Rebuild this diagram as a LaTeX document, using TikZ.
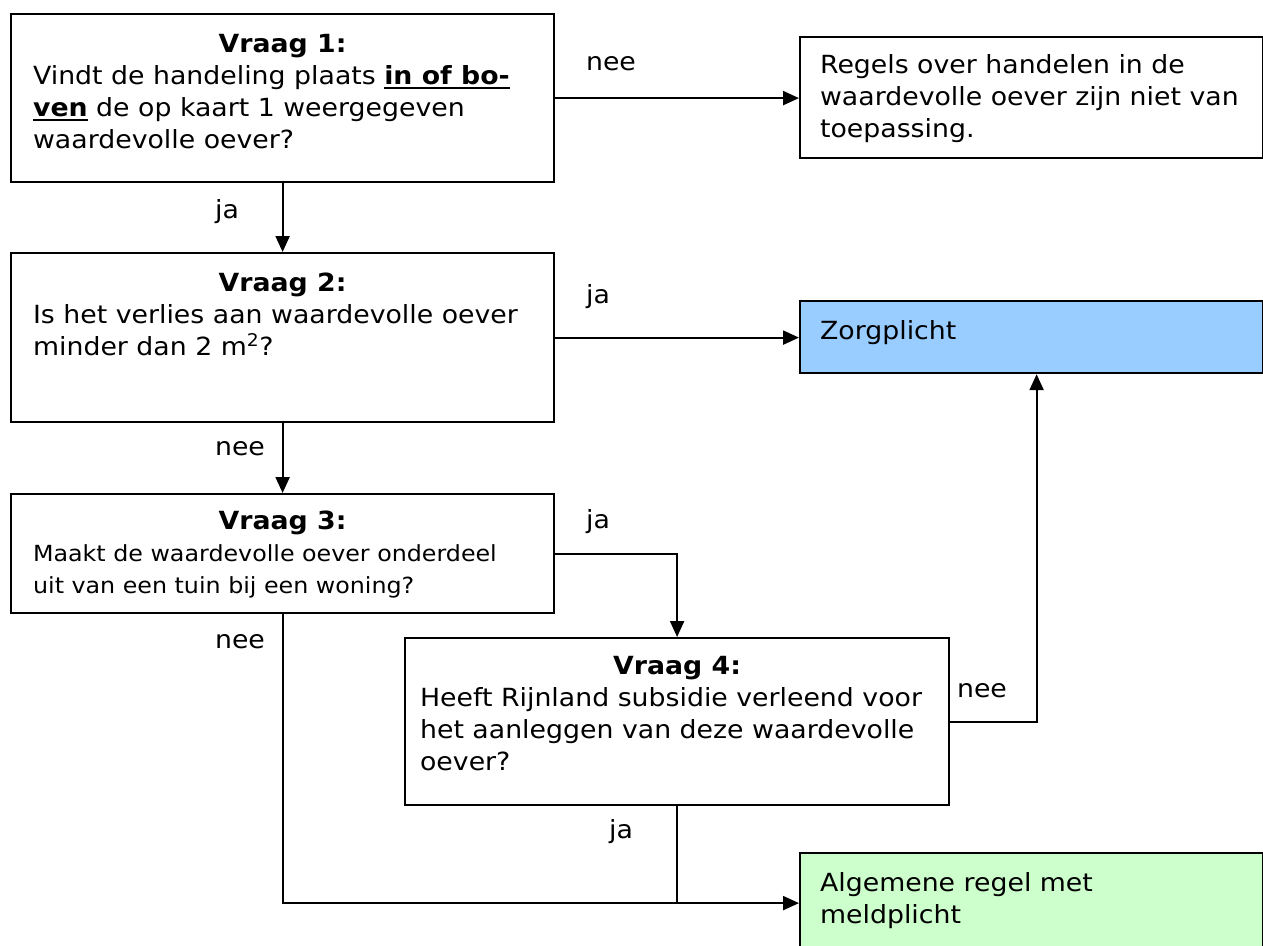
\documentclass[tikz,border=0pt]{standalone}
\usepackage{fontspec}
\setmainfont{DejaVu Sans}[FakeStretch=1.07]
\usetikzlibrary{arrows.meta}
\definecolor{zorgblue}{HTML}{99CCFF}
\definecolor{alggreen}{HTML}{CCFFCC}
\newcommand\ulb[1]{\leavevmode\setbox0\hbox{#1}\rlap{\rule[-4.5pt]{\wd0}{2pt}}\box0}
\newcommand\bxt[4]{\parbox[c][#2][t]{#1}{\rule{0pt}{#3}#4}}
\begin{document}
\begin{tikzpicture}[x=1pt,y=-1pt,
  font=\fontsize{25}{32}\selectfont,
  box/.style={draw, line width=2.2pt, anchor=north west, inner xsep=22pt, inner ysep=0pt},
  arr/.style={line width=2.2pt, -{Triangle[length=16pt,width=14pt]}},
  ln/.style={line width=2.2pt},
  lbl/.style={anchor=base, inner sep=0pt}]
\useasboundingbox (0,0) rectangle (1263,945);

\node[box] (b1) at (10,13) {\bxt{499pt}{168pt}{38pt}{\centering\textbf{Vraag 1:}\par\raggedright Vindt de handeling plaats \ulb{\textbf{in of bo-}}\\\ulb{\textbf{ven}}\ de op kaart 1 weergegeven\\waardevolle oever?}};

\node[box, inner xsep=20pt] (r1) at (799,36) {\bxt{423pt}{121pt}{36pt}{\raggedright Regels over handelen in de\\waardevolle oever zijn niet van\\toepassing.}};

\node[box] (b2) at (10,252) {\bxt{499pt}{169pt}{38pt}{\centering\textbf{Vraag 2:}\par\raggedright Is het verlies aan waardevolle oever\\minder dan 2 m\textsuperscript{2}?}};

\node[box, fill=zorgblue, inner xsep=20pt] (zorg) at (799,300) {\bxt{423pt}{72pt}{38pt}{\raggedright Zorgplicht}};

\node[box] (b3) at (10,493) {\bxt{499pt}{119pt}{35pt}{\centering\textbf{Vraag 3:}\par\raggedright\fontsize{22.2}{32}\selectfont Maakt de waardevolle oever onderdeel\\uit van een tuin bij een woning?}};

\node[box, inner xsep=15pt] (b4) at (404,637) {\bxt{514pt}{167pt}{36pt}{\centering\textbf{Vraag 4:}\par\raggedright Heeft Rijnland subsidie verleend voor\\het aanleggen van deze waardevolle\\oever?}};

\node[box, fill=alggreen, inner xsep=20pt] (alg) at (799,852) {\bxt{423pt}{95pt}{38pt}{\raggedright Algemene regel met\\meldplicht}};

\coordinate (j) at ([yshift=-2.5pt]alg.west);

\draw[arr] (b1.east) -- (b1.east -| r1.west);
\draw[arr] (b1.south) -- (b2.north);
\draw[arr] (b2.east) -- (b2.east -| zorg.west);
\draw[arr] (b2.south) -- (b3.north);
\draw[arr] (b3.east) -| (b4.north);
\draw[arr] (b4.east) -| ([xshift=5pt]zorg.south);
\draw[arr] (b3.south) |- (j);
\draw[ln] (b4.south) -- (b4.south |- j);

\node[lbl] (l1) at (611,70) {nee};
\node[lbl] (l2) at (227,218) {ja};
\node[lbl] (l3) at (598,303) {ja};
\node[lbl] (l4) at (240,455) {nee};
\node[lbl] (l5) at (598,528) {ja};
\node[lbl] (l6) at (982,697) {nee};
\node[lbl] (l7) at (240,648) {nee};
\node[lbl] (l8) at (621,838) {ja};
\end{tikzpicture}
\end{document}
